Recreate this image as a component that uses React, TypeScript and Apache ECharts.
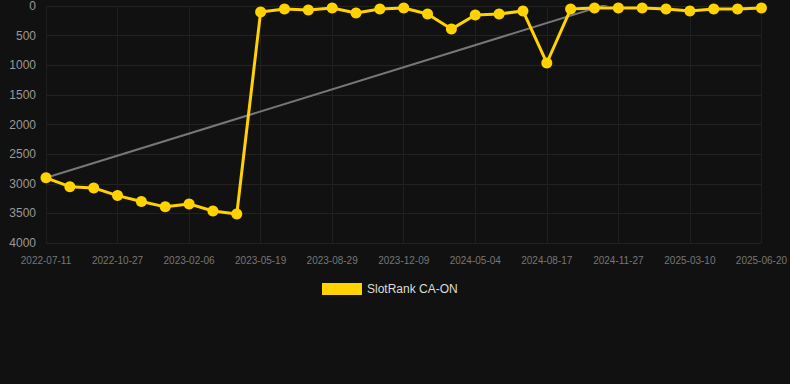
import React, { useEffect, useRef } from "react";
import * as echarts from "echarts";

const categories = [
  "2022-07-11", "2022-08-16", "2022-09-21", "2022-10-27", "2022-12-01", "2023-01-03",
  "2023-02-06", "2023-03-12", "2023-04-15", "2023-05-19", "2023-06-22", "2023-07-26",
  "2023-08-29", "2023-10-02", "2023-11-05", "2023-12-09", "2024-01-26", "2024-03-15",
  "2024-05-04", "2024-06-08", "2024-07-13", "2024-08-17", "2024-09-20", "2024-10-24",
  "2024-11-27", "2025-01-01", "2025-02-04", "2025-03-10", "2025-04-13", "2025-05-17",
  "2025-06-20",
];

const rankValues = [
  2900, 3050, 3070, 3200, 3300, 3390, 3340, 3460, 3510,
  100, 50, 68, 34, 118, 51, 34, 135, 390, 152, 135, 84,
  962, 51, 34, 34, 34, 51, 84, 51, 51, 34,
];

const trendStart = 2898;
const trendEnd = -832;

const yTicks = { min: 0, max: 4000, interval: 500 };

export default function App() {
  const ref = useRef<HTMLDivElement>(null);
  useEffect(() => {
    if (!ref.current) return;
    const chart = echarts.init(ref.current, undefined, { renderer: "svg" });
    const trendData = categories.map((_, i) =>
      i === 0 ? trendStart : i === categories.length - 1 ? trendEnd : null
    );
    chart.setOption({
      animation: false,
      backgroundColor: "#111111",
      grid: { left: 46, right: 28, top: 6, bottom: 141, containLabel: false },
      legend: {
        data: ["SlotRank CA-ON"],
        top: 278,
        left: 317,
        itemWidth: 40,
        itemHeight: 12,
        icon: "rect",
        textStyle: { color: "#dddddd", fontSize: 12, fontFamily: "Liberation Sans, Arial, sans-serif" },
      },
      xAxis: {
        type: "category",
        data: categories,
        boundaryGap: false,
        axisLine: { show: false },
        axisTick: { show: false },
        axisLabel: {
          interval: 2,
          color: "#777777",
          fontSize: 10,
          margin: 12,
          fontFamily: "Liberation Sans, Arial, sans-serif",
        },
        splitLine: { show: true, interval: 2, lineStyle: { color: "#1f1f1f", width: 1 } },
      },
      yAxis: {
        type: "value",
        inverse: true,
        min: yTicks.min,
        max: yTicks.max,
        interval: yTicks.interval,
        axisLine: { show: false },
        axisTick: { show: false },
        axisLabel: {
          color: "#999999",
          fontSize: 12,
          margin: 10,
          formatter: (v: number) => String(v),
          fontFamily: "Liberation Sans, Arial, sans-serif",
        },
        splitLine: { show: true, lineStyle: { color: "#222222", width: 1 } },
      },
      series: [
        {
          name: "trend",
          type: "line",
          data: trendData,
          connectNulls: true,
          symbol: "none",
          clip: true,
          lineStyle: { color: "#777777", width: 2 },
          z: 1,
          silent: true,
        },
        {
          name: "SlotRank CA-ON",
          type: "line",
          data: rankValues,
          symbol: "circle",
          symbolSize: 11,
          clip: false,
          itemStyle: { color: "#FFD200" },
          lineStyle: { color: "#FFD200", width: 3 },
          z: 3,
        },
      ],
    });
    return () => chart.dispose();
  }, []);
  return (
    <div
      ref={ref}
      style={{ position: "fixed", left: 0, top: 0, width: 790, height: 384, background: "#111111" }}
    />
  );
}
